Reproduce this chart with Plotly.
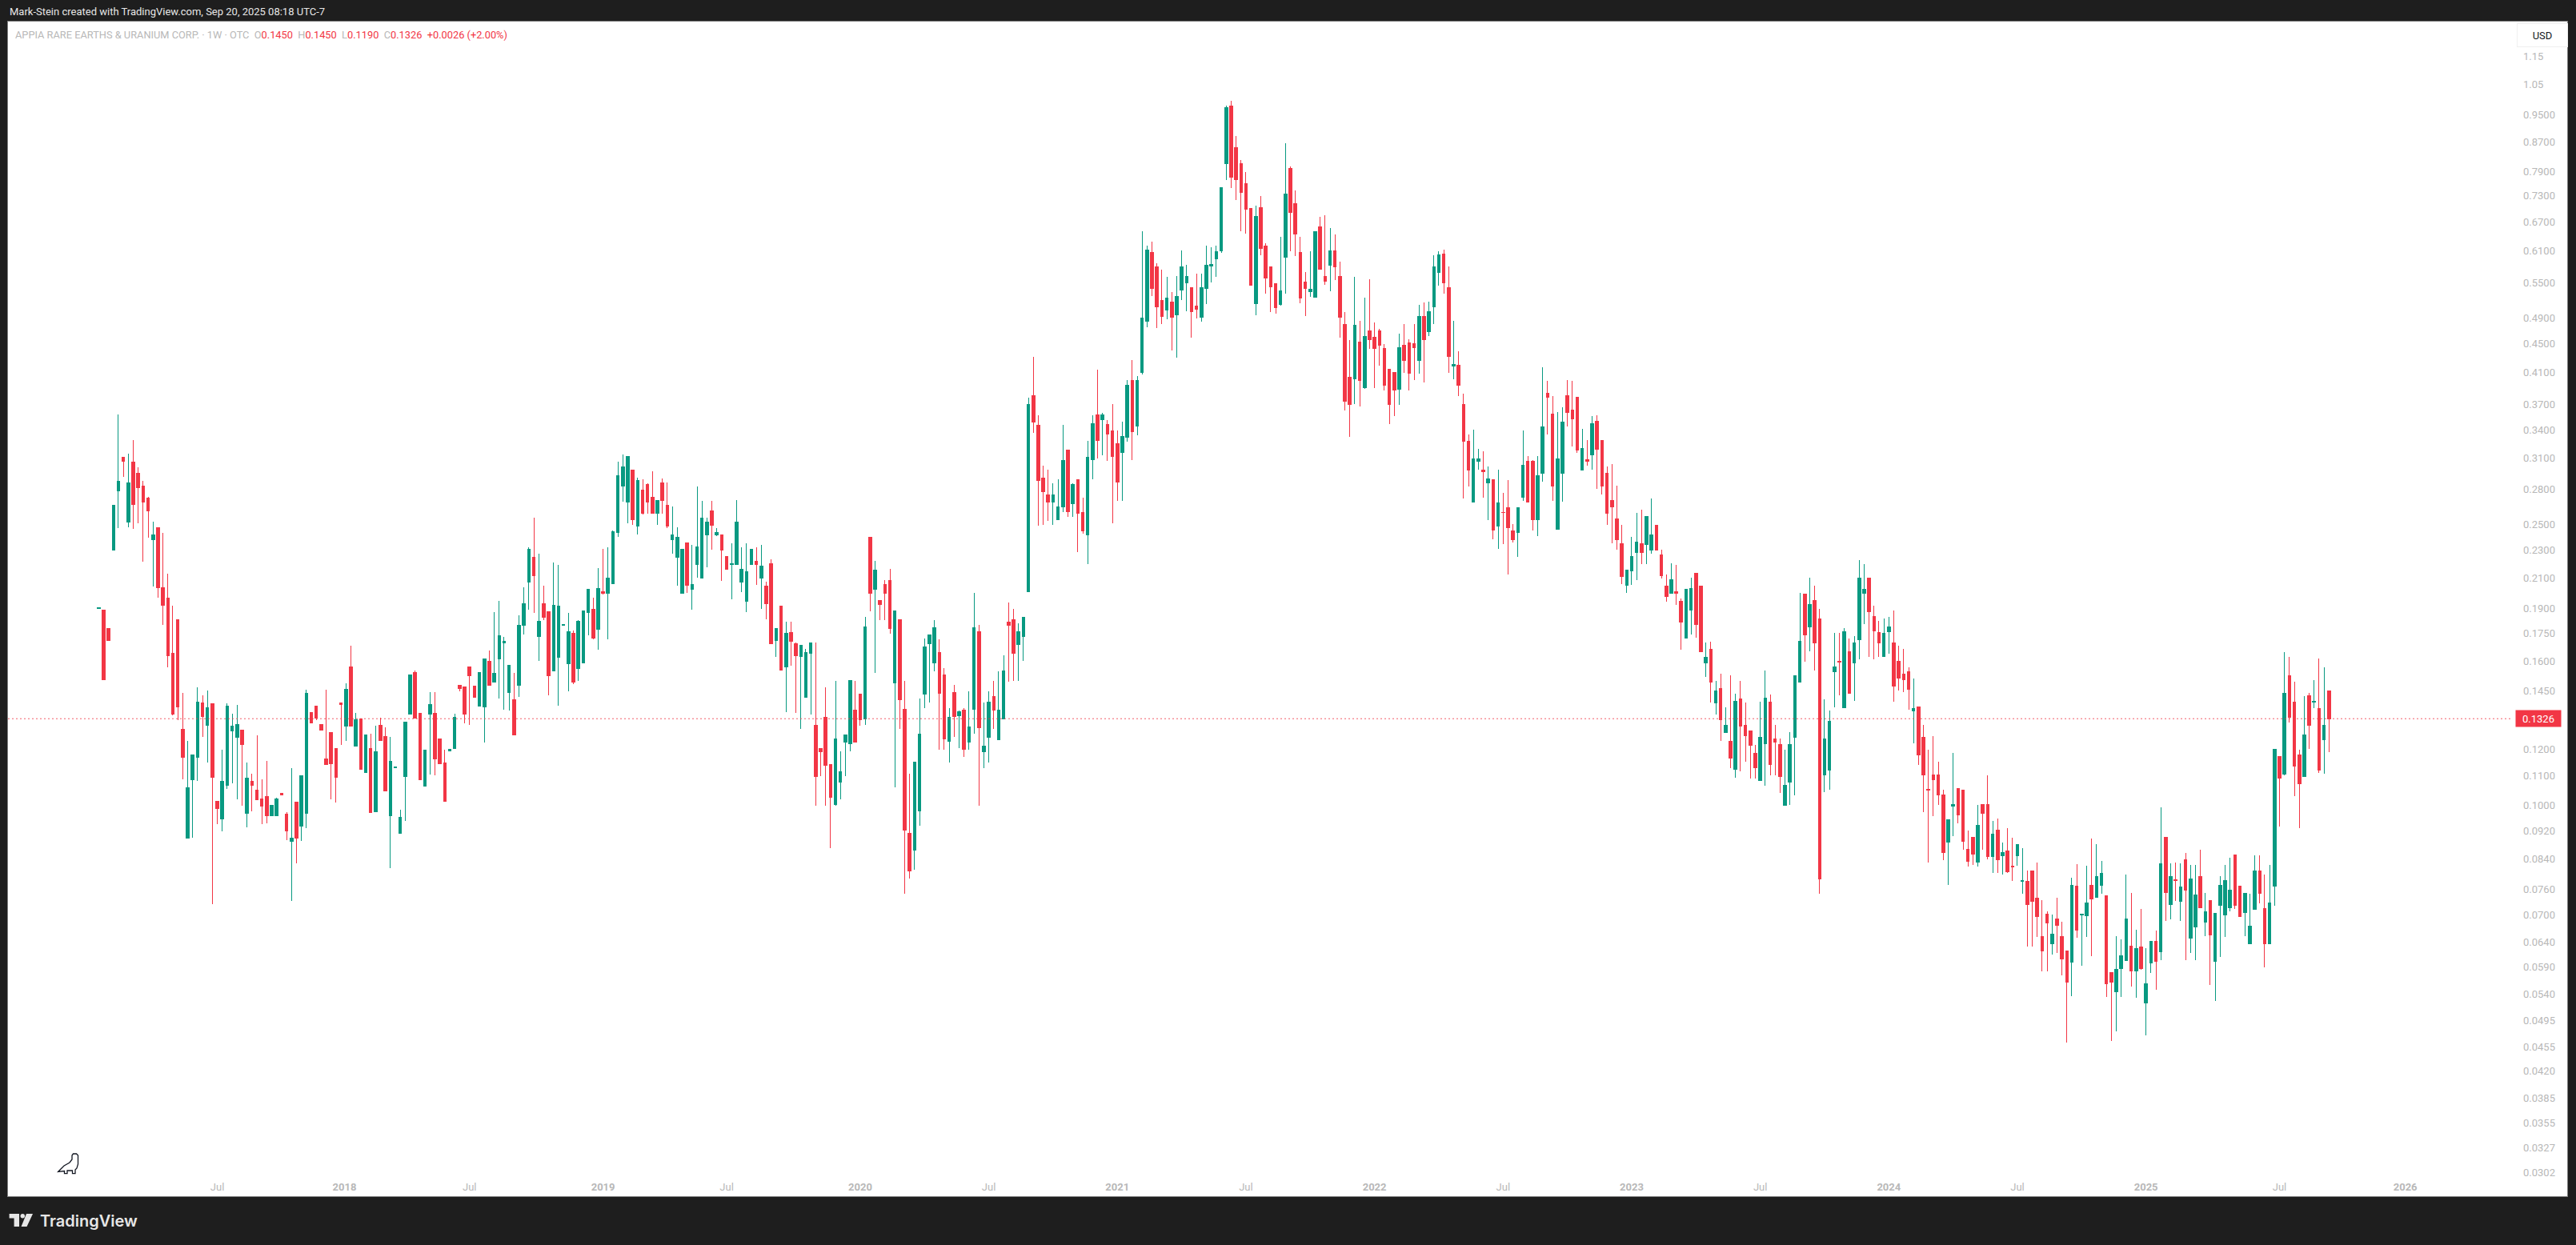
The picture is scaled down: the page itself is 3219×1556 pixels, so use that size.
# Appia Rare Earths & Uranium Corp. - weekly candles, TradingView look
import math
import pandas as pd
import plotly.graph_objects as go

W, H = 3219, 1556
# white pane edges, in page pixels
PANE_L, PANE_R, PANE_T, PANE_B = 10, 3208, 27, 1495

RED = "#F23645"
GREEN = "#089981"
DARK = "#1E1E1E"
TICK_GREY = "#B8B8B8"

FIRST_WEEK = "2017-01-23"

# ── weekly prices (G = up week, R = down week) ─────────────────────────────
dirs_a = "GRRGGRGRRR" "RGRRRRRRGG" "GRGRRGGGGR" "GRRRRGGRRG" "RGGRRRRRRR"
high_a = [.1905,.189,.178,.2665,.3577,.3115,.315,.329,.301,.288,
          .2733,.252,.2475,.243,.213,.1917,.1829,.1443,.1233,.1177,
          .1469,.1431,.1453,.1391,.1014,.1198,.1395,.1349,.1387,.1279,
          .115,.1109,.1256,.1088,.1154,.0999,.1024,.104,.0977,.113,
          .101,.11,.1458,.1353,.1382,.13,.1458,.1268,.1202,.1398]
top_a = [.1902,.189,.178,.266,.288,.3107,.2865,.306,.295,.2835,
         .272,.2417,.2475,.2035,.1967,.164,.1829,.128,.106,.1177,
         .1398,.1395,.1373,.1391,.1014,.108,.138,.1293,.13,.1279,
         .1091,.108,.105,.102,.103,.0999,.102,.104,.0971,.0899,
         .101,.11,.144,.1353,.1382,.13,.1162,.1268,.1202,.1396]
bot_a = [.1898,.1504,.1713,.23,.279,.3067,.252,.2665,.282,.269,
         .2615,.2375,.2035,.192,.163,.1345,.1377,.1168,.0899,.1088,
         .1168,.1337,.1299,.1094,.0988,.0956,.1066,.1273,.1247,.1218,
         .0973,.1066,.1018,.0997,.0967,.0967,.0967,.1035,.0919,.0888,
         .0898,.0934,.0973,.1308,.1327,.1276,.1143,.1146,.1095,.1390]
low_a = [.1895,.1504,.1713,.23,.2469,.292,.2475,.246,.2505,.221,
         .239,.204,.197,.18,.1567,.134,.132,.1088,.0899,.09,
         .1083,.1249,.115,.0725,.094,.0918,.1055,.1074,.102,.0999,
         .093,.098,.1018,.094,.0943,.0967,.0967,.1035,.0893,.0731,
         .0828,.089,.0927,.1308,.132,.1276,.1143,.102,.101,.1218]

dirs_b = "GRGRGRGRRG" "GGGGRRGGRR" "RGGRRRRGGR" "GGGGRGGGRG" "RRGGGGRGGG"
high_b = [.1488,.1682,.135,.1325,.1257,.1262,.1296,.1331,.129,.125,
          .1134,.0986,.1313,.1528,.1552,.135,.1197,.1447,.1447,.1241,
          .1198,.1199,.1349,.1478,.1469,.1568,.1473,.154,.161,.1656,
          .1877,.1947,.173,.158,.154,.1858,.2035,.232,.2554,.2271,
          .2046,.1882,.2207,.219,.1803,.1871,.1768,.183,.1887,.202]
top_b = [.1458,.1568,.132,.1325,.1257,.1202,.1192,.1298,.125,.1155,
         .1134,.0961,.1313,.1528,.154,.135,.1197,.1388,.135,.1241,
         .1149,.1199,.1333,.1478,.1469,.1568,.1473,.154,.161,.16,
         .1536,.1739,.1709,.158,.1409,.18,.1932,.2302,.2242,.1824,
         .1927,.1882,.1917,.1912,.1803,.1759,.175,.1824,.1887,.202]
bot_b = [.1293,.1293,.1214,.1123,.1113,.0977,.0979,.1235,.1047,.0967,
         .113,.0912,.1098,.1347,.1329,.1086,.1064,.1347,.1162,.1146,
         .1012,.1195,.1204,.1465,.1345,.1524,.142,.138,.1377,.148,
         .1496,.1613,.1697,.1446,.1259,.148,.18,.2068,.2116,.1735,
         .1845,.1524,.1548,.1618,.1797,.1588,.1496,.1563,.1592,.1877]
low_b = [.1233,.1293,.1214,.1123,.1113,.0977,.0979,.1235,.1047,.0815,
         .113,.0912,.0949,.1347,.1329,.1086,.1064,.1106,.1103,.1146,
         .1012,.1195,.1204,.145,.1306,.1299,.142,.138,.1227,.148,
         .1496,.1417,.1367,.1363,.1259,.1424,.1747,.1892,.1871,.16,
         .183,.1431,.1548,.1384,.1797,.145,.1484,.15,.1592,.1739]

dirs_c = "RGRGGGGGRG" "RRRGRRGGGR" "GGGGRGRRGG" "GGGRGRRGRG" "RRGGGRRRRG"
high_c = [.1968,.2167,.2306,.232,.245,.3067,.3139,.3115,.2985,.291,
          .2895,.2858,.2971,.27,.2902,.2865,.2649,.2475,.2302,.2355,
          .2336,.2828,.27,.2554,.27,.2469,.2412,.2249,.2349,.2708,
          .232,.2349,.2302,.232,.2336,.2073,.223,.1778,.1912,.1819,
          .1819,.17,.1686,.1664,.17,.17,.1204,.1469,.1143,.15]
top_c = [.1897,.203,.2004,.21,.244,.2933,.3018,.3115,.2985,.2887,
         .2793,.2845,.2733,.27,.2858,.2663,.2412,.2399,.2302,.2355,
         .2052,.232,.2554,.2521,.2615,.2437,.2412,.2249,.2196,.2521,
         .2156,.2142,.2302,.2218,.2184,.2046,.2196,.1778,.1912,.175,
         .1755,.1695,.1686,.1647,.17,.1299,.1204,.1333,.1143,.1242]
bot_c = [.1726,.1773,.1994,.1994,.2057,.2431,.2828,.2691,.254,.2487,
         .2594,.2691,.2588,.2588,.27,.2487,.2375,.2242,.1994,.2047,
         .202,.219,.2095,.2412,.2494,.2412,.2296,.2156,.219,.219,
         .2073,.1947,.219,.219,.2095,.1927,.1695,.1713,.1555,.157,
         .1709,.163,.1626,.142,.1643,.1097,.1191,.114,.1026,.1001]
low_c = [.1717,.166,.199,.1717,.2057,.2399,.2691,.2508,.2494,.2418,
         .2584,.2589,.2588,.2494,.2588,.2469,.2271,.2047,.1994,.1998,
         .1892,.21,.2095,.2172,.2302,.2405,.208,.2156,.1957,.219,
         .2004,.1877,.219,.2052,.1897,.1835,.1695,.1622,.1555,.1355,
         .1575,.1351,.1282,.142,.1345,.0999,.11,.0999,.087,.0999]

dirs_d = "GGGRRGRGRR" "RGRRRGGGGG" "RRGRGRGGRG" "GRGGRRGGGR" "RRRGGGRGRR"
high_d = [.1193,.1259,.15,.15,.1436,.1848,.2399,.2218,.1952,.2083,
          .2161,.1887,.1835,.15,.1109,.115,.1417,.1722,.1743,.1829,
          .1717,.1563,.1372,.148,.1362,.1372,.145,.1998,.18,.1398,
          .145,.15,.1548,.163,.1937,.1897,.1809,.1848,.378,.4316,
          .3566,.3027,.2985,.2858,.2895,.3457,.3185,.2858,.2895,.2727]
top_d = [.1116,.1259,.15,.1362,.1436,.179,.2399,.2151,.1952,.2052,
         .2083,.1887,.1829,.1367,.0912,.115,.1262,.1676,.1743,.1785,
         .1647,.1528,.1332,.1443,.1355,.1362,.129,.1785,.1759,.1213,
         .1398,.1427,.1362,.1548,.1819,.1829,.1759,.1848,.3692,.3798,
         .3457,.291,.2752,.2752,.2649,.3081,.3185,.2845,.2895,.2601]
bot_d = [.1077,.1227,.1223,.1227,.132,.1326,.1994,.202,.1922,.1994,
         .1778,.1492,.1409,.0923,.0808,.0864,.0981,.1436,.1695,.1592,
         .144,.124,.1233,.1337,.134,.12,.1227,.1367,.1286,.1191,
         .1247,.1362,.1237,.1326,.1796,.1643,.169,.1735,.2008,.3493,
         .2887,.2777,.2691,.2691,.254,.2649,.2607,.2677,.2594,.2444]
low_d = [.102,.11,.1191,.1227,.1296,.1299,.1882,.154,.1829,.1829,
         .175,.1061,.1282,.0749,.0788,.081,.0935,.1372,.1398,.1548,
         .1198,.1198,.115,.1249,.1204,.117,.1198,.1262,.0999,.1129,
         .115,.1282,.1237,.1326,.1496,.15,.15,.16,.2008,.3368,
         .2487,.2494,.2527,.2494,.254,.2601,.2561,.2561,.2283,.2424]

dirs_e = "GGRGRRRGGR" "GGGRRRGRGG" "GRRGGGGGGR" "RRRRGRRRRG" "GRRRRGGRRG"
high_e = [.3281,.3566,.4138,.3594,.3512,.37,.3394,.3493,.4,.4271,
          .4054,.65,.6202,.6278,.5857,.5737,.5604,.533,.5616,.6106,
          .5826,.5402,.5662,.5662,.6202,.617,.6202,.75,.979,.9948,
          .8869,.8201,.7887,.70,.7067,.7283,.6251,.5796,.5473,.6383,
          .8663,.8037,.7425,.6383,.5691,.609,.65,.6815,.685,.657]
top_e = [.3107,.3475,.3575,.3575,.3466,.3394,.3248,.3333,.393,.3991,
         .4,.4904,.6122,.6059,.5796,.5194,.5234,.5154,.5262,.5782,
         .5604,.5402,.51,.5402,.5826,.5841,.609,.75,.9718,.979,
         .8529,.8095,.7584,.70,.6815,.703,.6202,.5796,.5473,.5347,
         .7336,.7969,.7105,.6059,.5515,.5375,.65,.6603,.5604,.6106]
bot_e = [.2418,.309,.329,.3521,.3352,.3115,.2872,.3156,.3317,.3385,
         .3448,.4107,.4841,.5388,.5074,.493,.5034,.4917,.4956,.536,
         .5487,.4995,.5047,.4917,.5388,.5810,.5948,.6106,.8095,.7744,
         .7683,.7388,.6976,.5445,.514,.6154,.5588,.5429,.5061,.5127,
         .5966,.6921,.645,.5224,.5388,.5345,.5237,.5736,.553,.5826]
low_e = [.2196,.2895,.3098,.3131,.3073,.2507,.27,.27,.3273,.3081,
         .3343,.4075,.4753,.5262,.4741,.4803,.4879,.4407,.4304,.5194,
         .5008,.4595,.4892,.4841,.5127,.55,.5604,.6059,.7683,.7486,
         .7198,.65,.645,.5445,.4945,.6012,.5304,.4995,.4969,.51,
         .5304,.609,.5996,.514,.493,.5249,.5237,.5736,.5456,.5347]

dirs_f = "RRRRGRGRRR" "RRRGRRRGRG" "GGRRGRRRGG" "RGRGRRRGGR" "RGGRRGGRRR"
high_f = [.6437,.5888,.4995,.456,.5604,.4853,.5237,.5558,.4828,.473,
          .45,.415,.4107,.4655,.4803,.457,.4803,.5113,.5154,.5167,
          .6012,.609,.6122,.5796,.4853,.4396,.3823,.3352,.3403,.3197,
          .3172,.3019,.2895,.2985,.2768,.2887,.25,.2636,.3394,.3123,
          .3081,.3123,.4172,.3991,.3798,.3603,.3661,.4,.3991,.378]
top_f = [.6106,.5604,.4803,.4033,.479,.4535,.4607,.4692,.4595,.4692,
         .443,.415,.4107,.4453,.4488,.4512,.45,.493,.493,.4995,
         .5782,.6012,.6028,.5402,.4205,.4194,.37,.3281,.3098,.3098,
         .2985,.2902,.2895,.2684,.2601,.2636,.2444,.2636,.3027,.3067,
         .3073,.2933,.3431,.3836,.3584,.3098,.3493,.3798,.3624,.378]
bot_f = [.5782,.4905,.373,.3692,.4013,.3991,.39,.457,.443,.4488,
         .3939,.37,.3868,.3885,.426,.4086,.4442,.4271,.457,.468,
         .5087,.5677,.5487,.4327,.4190,.3939,.3273,.2985,.2691,.3073,
         .2964,.2858,.245,.2487,.2595,.2475,.238,.2437,.2733,.2691,
         .254,.254,.2949,.3786,.2828,.2462,.295,.3603,.353,.3181]
low_f = [.5544,.4595,.3624,.3325,.37,.3673,.3885,.443,.39,.4194,
         .3868,.3466,.3558,.3692,.4097,.3868,.4,.4086,.3969,.4619,
         .4803,.5443,.5304,.4097,.4013,.3798,.2717,.2828,.2691,.2985,
         .2727,.2534,.238,.2306,.2343,.2122,.2355,.2249,.27,.2691,
         .245,.2405,.2872,.3352,.27,.2462,.2691,.344,.3221,.3156]

dirs_g = "GRGRRRRRRG" "GGRGGRRRGR" "RGGRRGRGRG" "RGRRRRGGRR" "RGGGGRGRRG"
high_g = [.3414,.329,.3558,.3566,.329,.3019,.3042,.2835,.2494,.2151,
          .2399,.2594,.2622,.2567,.2717,.2494,.2302,.2122,.2201,.219,
          .1962,.202,.21,.213,.2041,.17,.1705,.15,.1536,.1377,
          .1528,.1438,.15,.1398,.1273,.1218,.14,.155,.1436,.1298,
          .1242,.1199,.127,.1526,.2,.199,.21,.2047,.1899,.1414]
top_g = [.3197,.309,.3475,.3502,.329,.2956,.27,.2547,.2349,.2151,
         .2249,.2361,.2349,.2567,.2412,.2494,.2264,.2046,.2089,.2004,
         .1947,.202,.2026,.213,.2041,.1618,.1664,.1453,.1465,.1299,
         .1233,.1402,.1416,.1299,.1273,.1183,.1248,.1417,.14,.124,
         .1218,.1066,.1218,.1526,.1705,.199,.1925,.1952,.1835,.1242]
bot_g = [.2985,.3067,.3131,.3189,.2835,.2588,.2649,.238,.2111,.2047,
         .2145,.2283,.2283,.2343,.2296,.2296,.2116,.1974,.1994,.1998,
         .1819,.1726,.1892,.1805,.1652,.1592,.1496,.1395,.132,.1269,
         .1165,.1123,.1296,.1256,.1216,.1129,.1083,.1223,.1143,.1227,
         .1097,.0999,.1077,.1248,.1496,.1742,.1788,.17,.0786,.1103]
low_g = [.2985,.3027,.2985,.2806,.2758,.2494,.2349,.2299,.2057,.1998,
         .2052,.2083,.2196,.2196,.2271,.2296,.2095,.194,.1994,.192,
         .166,.1726,.1743,.1726,.1652,.1518,.1398,.1345,.1233,.1269,
         .1129,.1094,.1116,.1153,.1091,.1091,.1083,.1066,.1103,.1103,
         .104,.0999,.1001,.1033,.1496,.1598,.1652,.1552,.075,.1044]

dirs_h = "GGRGRGGGRR" "RGGRRRRGRR" "RRRRGGRRRR" "GRRGRGRRGG" "RRRRRGRRRG"
high_h = [.1362,.1755,.1752,.1783,.1722,.1735,.2224,.2197,.21,.1917,
          .1822,.1838,.1848,.1887,.1683,.1663,.1566,.1512,.1378,.1298,
          .1199,.1253,.1152,.1051,.0953,.1185,.1055,.1051,.092,.09,
          .1001,.1001,.1103,.0949,.0957,.0886,.0928,.09,.0879,.087,
          .0808,.0808,.083,.0734,.0708,.0701,.074,.0683,.0622,.0789]
top_h = [.1315,.1572,.1598,.1761,.1652,.17,.2095,.2022,.21,.185,
         .1755,.175,.179,.17,.1598,.1535,.1546,.137,.1378,.1248,
         .1053,.1103,.1105,.1033,.0953,.1002,.1055,.1051,.0866,.09,
         .0936,.1001,.1001,.0911,.0923,.0858,.0861,.082,.0879,.0782,
         .0781,.0808,.0738,.0651,.0701,.0657,.069,.0651,.0622,.0771]
bot_h = [.112,.1546,.1594,.1375,.1442,.1592,.1717,.1995,.188,.1765,
         .1697,.1626,.1761,.1475,.1512,.1505,.1458,.136,.1178,.1103,
         .105,.1088,.1033,.0858,.0886,.0998,.0969,.089,.0833,.0853,
         .083,.0975,.0847,.0845,.0837,.0849,.0804,.0817,.0849,.078,
         .0724,.073,.0695,.0622,.0681,.0637,.0675,.0606,.0561,.06]
low_h = [.1051,.1375,.143,.1375,.1442,.1405,.161,.1803,.162,.161,
         .162,.1626,.1637,.14,.1454,.1448,.1364,.1225,.114,.0977,
         .083,.0965,.1001,.0837,.0771,.0904,.0943,.0864,.0819,.0823,
         .0819,.0864,.0838,.0802,.0802,.0798,.0802,.0781,.0821,.075,
         .0631,.0631,.0651,.0582,.0582,.0615,.0617,.0574,.0461,.0537]

dirs_i = "RGGRGGRRGG" "GRGRGGRGRG" "RGRGGRGRGG" "GGRRGGGRRG" "GRGRRRGRGR" "GR"
high_i = [.0825,.0701,.0821,.0897,.088,.0833,.0745,.058,.0653,.0645,
          .0797,.0752,.0667,.0713,.0627,.0642,.0665,.0993,.09,.0827,
          .083,.0827,.0857,.0822,.0822,.0864,.0752,.0733,.0703,.0794,
          .0822,.0843,.085,.0769,.075,.075,.085,.085,.0797,.0822,
          .12,.1172,.1649,.162,.1495,.12,.1428,.1443,.1502,.1612,
          .1568,.145]
top_i = [.0769,.0701,.0728,.0771,.0792,.0801,.0745,.0579,.0586,.0612,
         .069,.0632,.0626,.063,.0559,.0642,.0642,.0827,.09,.0792,
         .0785,.0767,.0837,.0786,.0746,.0792,.0706,.0733,.0703,.0771,
         .0783,.0758,.085,.0769,.075,.0674,.0807,.0807,.0714,.0727,
         .12,.1172,.144,.1526,.1401,.1179,.1257,.1428,.1404,.137,
         .1299,.145]
bot_i = [.0665,.0699,.0698,.0736,.074,.0771,.0558,.0561,.0544,.0587,
         .0602,.0582,.0582,.0587,.0525,.0598,.0601,.062,.0752,.0723,
         .0782,.0731,.0758,.0649,.0672,.0716,.0683,.0655,.0601,.0721,
         .0699,.0716,.0721,.0695,.0704,.0637,.0712,.075,.0637,.0637,
         .0768,.1092,.1106,.1332,.1137,.1074,.1097,.1299,.1400,.1122,
         .1238,.1326]
low_i = [.0649,.0592,.0651,.0612,.074,.075,.0535,.0463,.0478,.0535,
         .0602,.0554,.0533,.0585,.0472,.0579,.0548,.0604,.0686,.069,
         .0731,.0685,.0604,.0617,.0604,.0716,.0653,.0556,.0528,.061,
         .0651,.0708,.0713,.0695,.0653,.0637,.0712,.0727,.059,.0637,
         .0721,.0933,.1103,.1311,.1031,.0928,.1097,.1203,.1374,.1111,
         .1109,.119]

last_price = 0.1326

# axis labels
price_ticks = [1.15, 1.05, .95, .87, .79, .73, .67, .61, .55, .49, .45, .41, .37, .34,
               .31, .28, .25, .23, .21, .19, .175, .16, .145, .12, .11, .10, .092, .084,
               .076, .07, .064, .059, .054, .0495, .0455, .042, .0385, .0355, .0327, .0302]
time_ticks = ["2017-07-10", "2018-01-06", "2018-07-02", "2019-01-07", "2019-07-01", "2020-01-06",
              "2020-07-06", "2021-01-04", "2021-07-05", "2022-01-03", "2022-07-04", "2023-01-02",
              "2023-07-03", "2024-01-01", "2024-07-01", "2024-12-30", "2025-07-07", "2026-01-01"]
time_text = ["Jul", "<b>2018</b>", "Jul", "<b>2019</b>", "Jul", "<b>2020</b>",
             "Jul", "<b>2021</b>", "Jul", "<b>2022</b>", "Jul", "<b>2023</b>",
             "Jul", "<b>2024</b>", "Jul", "<b>2025</b>", "Jul", "<b>2026</b>"]

# ── stitch the chunks together ─────────────────────────────────────────────
dirs = dirs_a + dirs_b + dirs_c + dirs_d + dirs_e + dirs_f + dirs_g + dirs_h + dirs_i
highs = high_a + high_b + high_c + high_d + high_e + high_f + high_g + high_h + high_i
tops = top_a + top_b + top_c + top_d + top_e + top_f + top_g + top_h + top_i
bots = bot_a + bot_b + bot_c + bot_d + bot_e + bot_f + bot_g + bot_h + bot_i
lows = low_a + low_b + low_c + low_d + low_e + low_f + low_g + low_h + low_i
assert len(dirs) == len(highs) == len(tops) == len(bots) == len(lows) == 452

opens = [b if d == "G" else t for d, t, b in zip(dirs, tops, bots)]
closes = [t if d == "G" else b for d, t, b in zip(dirs, tops, bots)]
weeks = pd.date_range(FIRST_WEEK, periods=len(dirs), freq="7D")


def px(x):
    return (x - PANE_L) / (PANE_R - PANE_L)


def py(y):
    return (PANE_B - y) / (PANE_B - PANE_T)


def path(points):
    return "M " + " L ".join(f"{px(x)} {py(y)}" for x, y in points) + " Z"


fig = go.Figure(go.Candlestick(
    x=weeks, open=opens, high=highs, low=lows, close=closes,
    increasing=dict(line=dict(color=GREEN, width=1), fillcolor=GREEN),
    decreasing=dict(line=dict(color=RED, width=1), fillcolor=RED),
    whiskerwidth=0, hoverinfo="skip", showlegend=False,
))

fig.update_layout(
    width=W, height=H,
    margin=dict(l=PANE_L, r=W - PANE_R, t=PANE_T, b=H - PANE_B, pad=0),
    paper_bgcolor=DARK, plot_bgcolor="white",
    font=dict(family="Roboto", size=13, color=TICK_GREY),
    boxgap=0.18, showlegend=False,
    xaxis=dict(
        type="date", range=["2016-09-16 17:00", "2026-08-18 05:00"],
        rangeslider=dict(visible=False), showgrid=False, zeroline=False,
        tickmode="array", tickvals=time_ticks, ticktext=time_text,
        ticklabelposition="inside", ticklabelstandoff=4, ticks="",
        tickfont=dict(size=13, color=TICK_GREY),
        showline=True, mirror=True, linecolor="#808080", linewidth=1,
    ),
    yaxis=dict(
        type="log", range=[math.log10(0.02794), math.log10(1.288)],
        showgrid=False, zeroline=False, showticklabels=False, ticks="",
        showline=True, mirror=True, linecolor="#808080", linewidth=1,
    ),
)

# last price line and its tag
fig.add_shape(type="line", xref="paper", yref="y", x0=0, x1=px(3138), y0=last_price, y1=last_price,
              line=dict(color=RED, width=1, dash="2px,3px"), opacity=0.8)
fig.add_annotation(xref="paper", yref="y", x=px(3143), y=math.log10(last_price), text="0.1326",
                   xanchor="left", yanchor="middle", showarrow=False, bgcolor=RED, width=54, height=18,
                   font=dict(color="white", size=13))

# price labels sit inside the pane, left aligned
for p in price_ticks:
    label = f"{p:.2f}" if p > 1 else f"{p:.4f}"
    fig.add_annotation(xref="paper", yref="y", x=px(3151), y=math.log10(p), text=label,
                       xanchor="left", yanchor="middle", showarrow=False,
                       font=dict(color=TICK_GREY, size=13))

fig.add_annotation(xref="paper", yref="paper", x=px(3145), y=py(44), text="USD", width=60, height=26,
                   xanchor="left", yanchor="middle", showarrow=False, align="center",
                   bordercolor="#F0F0F0", borderwidth=1, font=dict(color="#131722", size=13))

# header texts
fig.add_annotation(xref="paper", yref="paper", x=px(10), y=py(15),
                   text="Mark-Stein created with TradingView.com, Sep 20, 2025 08:18 UTC-7",
                   xanchor="left", yanchor="middle", showarrow=False,
                   font=dict(color="#E6E6E6", size=13))
redspan = '<span style="color:#F23645">{}</span>'
gap = "\u00a0\u00a0"
legend = ("APPIA RARE EARTHS &amp; URANIUM CORP. · 1W · OTC" + gap
          + "O" + redspan.format("0.1450") + gap + "H" + redspan.format("0.1450") + gap
          + "L" + redspan.format("0.1190") + gap + "C" + redspan.format("0.1326") + gap
          + redspan.format("+0.0026 (+2.00%)"))
fig.add_annotation(xref="paper", yref="paper", x=px(17), y=py(43), text=legend,
                   xanchor="left", yanchor="middle", showarrow=False,
                   font=dict(color=TICK_GREY, size=12.8))

# TradingView logo, bottom left
logo_parts = [
    [(11.6, 1517), (24, 1517), (24, 1533), (17.6, 1533), (17.6, 1522.5), (11.6, 1522.5)],
    [(33, 1517), (41, 1517), (33.5, 1533), (26.5, 1533)],
]
for part in logo_parts:
    fig.add_shape(type="path", xref="paper", yref="paper", path=path(part),
                  fillcolor="#E6E6E6", line=dict(width=0), layer="above")
fig.add_shape(type="circle", xref="paper", yref="paper", x0=px(25.5), x1=px(31), y0=py(1522.5), y1=py(1517),
              fillcolor="#E6E6E6", line=dict(width=0), layer="above")
fig.add_annotation(xref="paper", yref="paper", x=px(48), y=py(1526), text="TradingView",
                   xanchor="left", yanchor="middle", showarrow=False,
                   font=dict(family="Inter", color="#E6E6E6", size=20, weight=600))

# little dino icon
dino = [(72.8, 1464.3), (80, 1457), (87, 1453), (90, 1449), (90, 1444), (91.5, 1442), (95.5, 1442),
        (97.5, 1444), (97.5, 1455), (96, 1460), (94, 1462), (94, 1466.7), (90.5, 1466.7), (90.5, 1463),
        (84, 1463), (84, 1466.7), (80.5, 1466.7), (80.5, 1463.5)]
fig.add_shape(type="path", xref="paper", yref="paper", path=path(dino),
              line=dict(color="#131722", width=1.3), layer="above")

# crisp candle edges, like the canvas the original is drawn on
page_js = ("document.body.style.margin='0';document.body.style.background='#1E1E1E';"
           "document.head.insertAdjacentHTML('beforeend',"
           "'<style>.boxes path{shape-rendering:crispEdges !important}</style>');")
fig.write_html("out.html", config=dict(displayModeBar=False), post_script=page_js)
